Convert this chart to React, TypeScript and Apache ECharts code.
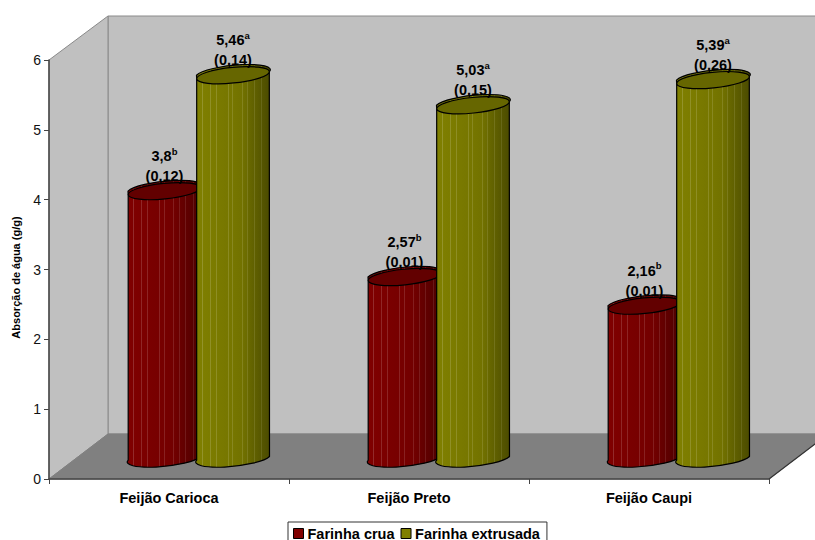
import React, { useEffect, useRef } from "react";
import * as echarts from "echarts";

const categories = ["Feijão Carioca", "Feijão Preto", "Feijão Caupi"];
const rawFlour = [3.8, 2.57, 2.16];
const extrudedFlour = [5.46, 5.03, 5.39];
const rawDeviation = ["(0,12)", "(0,01)", "(0,01)"];
const extrudedDeviation = ["(0,14)", "(0,15)", "(0,26)"];
const rawLetters = ["b", "b", "b"];
const extrudedLetters = ["a", "a", "a"];
const yTicks = { min: 0, max: 6, interval: 1 };

const FONT = '"Liberation Sans", Arial, sans-serif';
const W = 815;
const H = 540;
const GRID = { left: 49, right: 769, top: 60, bottom: 479 };
const DEPTH = { x: 59, y: 45 };
const BASE_LIFT = 22.5;
const RADIUS_X = 36.5;
const RADIUS_Y = 7.8;
const TILT = 0.1;
const STRIPES = [0.08, 0.19, 0.27, 0.43, 0.49, 0.62, 0.69, 0.78, 0.88];

type RGB = [number, number, number];
const hex = (c: RGB) => `rgb(${c.map((v) => Math.round(v)).join(",")})`;
const mix = (a: RGB, b: RGB, t: number): RGB => [
  a[0] + (b[0] - a[0]) * t,
  a[1] + (b[1] - a[1]) * t,
  a[2] + (b[2] - a[2]) * t,
];

// Cylinder shading: dark towards the right, with thin pale facets.
function bodyGradient(light: RGB, dark: RGB) {
  const shoulder = mix(light, dark, 0.22);
  const at = (f: number): RGB => (f < 0.6 ? mix(light, shoulder, f / 0.6) : mix(shoulder, dark, (f - 0.6) / 0.4));
  const stops: { offset: number; color: string }[] = [{ offset: 0, color: hex(light) }];
  STRIPES.forEach((f) => {
    const w = 0.013;
    const pale = mix(at(f), [255, 255, 255], 0.17 * (1 - f * 0.5));
    stops.push({ offset: f, color: hex(at(f)) });
    stops.push({ offset: f, color: hex(pale) });
    stops.push({ offset: f + w, color: hex(pale) });
    stops.push({ offset: f + w, color: hex(at(f + w)) });
  });
  stops.push({ offset: 1, color: hex(dark) });
  return new echarts.graphic.LinearGradient(0, 0, 1, 0, stops);
}

function cylinderSeries(
  name: string,
  values: number[],
  deviations: string[],
  letters: string[],
  side: number,
  color: string,
  light: RGB,
  dark: RGB,
  capColor: string,
) {
  const fill = bodyGradient(light, dark);
  return {
    name,
    type: "custom",
    itemStyle: { color },
    encode: { x: 0, y: 1 },
    data: values.map((v, i) => [i, v]),
    clip: false,
    renderItem(_params: unknown, api: any) {
      const i = api.value(0);
      const top = api.coord([i, api.value(1)]);
      const base = api.coord([i, 0]);
      const cx = top[0] + 29.75 + side * 34.25;
      const topY = top[1] - BASE_LIFT;
      const baseY = base[1] - BASE_LIFT;
      const lift = Math.sin(TILT) * RADIUS_X;
      const reach = Math.cos(TILT) * RADIUS_X;
      const xl = cx - reach;
      const xr = cx + reach;
      const deg = (-TILT * 180) / Math.PI;
      // The outline follows the upper rim, so no stroke doubles back at the shoulders.
      const body =
        `M${xl} ${topY + lift} L${xl} ${baseY + lift} ` +
        `A${RADIUS_X} ${RADIUS_Y} ${deg} 0 0 ${xr} ${baseY - lift} ` +
        `L${xr} ${topY - lift} A${RADIUS_X} ${RADIUS_Y} ${deg} 0 0 ${xl} ${topY + lift} Z`;
      return {
        type: "group",
        children: [
          {
            type: "path",
            shape: { pathData: body },
            style: { fill, stroke: "#000", lineWidth: 1.2, lineJoin: "round" },
          },
          {
            type: "ellipse",
            x: cx,
            y: topY,
            rotation: TILT,
            shape: { cx: 0, cy: 0, rx: RADIUS_X, ry: RADIUS_Y },
            style: { fill: capColor, stroke: "#000", lineWidth: 1.2 },
          },
          {
            type: "text",
            x: cx,
            y: topY - 5,
            style: {
              text: `{v|${String(values[i]).replace(".", ",")}}{s|${letters[i]}}\n{v|${deviations[i]}}`,
              align: "center",
              verticalAlign: "bottom",
              fill: "#000",
              font: `bold 14.5px ${FONT}`,
              rich: {
                v: { font: `bold 14.5px ${FONT}`, lineHeight: 20, fill: "#000" },
                s: { font: `bold 9.5px ${FONT}`, lineHeight: 20, verticalAlign: "top", fill: "#000" },
              },
            },
          },
        ],
      };
    },
  };
}

const WALL = "#C0C0C0";
const FLOOR = "#808080";
const EDGE = "#8a8a8a";

export default function App() {
  const ref = useRef<HTMLDivElement>(null);

  useEffect(() => {
    const chart = echarts.init(ref.current!, undefined, { renderer: "svg" });
    const backX = GRID.left + DEPTH.x;
    const backBottom = GRID.bottom - DEPTH.y;
    const backTop = GRID.top - DEPTH.y + 1;
    chart.setOption({
      animation: false,
      textStyle: { fontFamily: FONT },
      grid: {
        left: GRID.left,
        right: W - GRID.right,
        top: GRID.top,
        bottom: H - GRID.bottom,
        containLabel: false,
        outerBoundsMode: "none",
      },
      graphic: [
        {
          type: "rect",
          z: -10,
          shape: { x: backX, y: backTop, width: W - backX + 20, height: backBottom - backTop },
          style: { fill: WALL, stroke: EDGE, lineWidth: 1 },
        },
        {
          type: "polygon",
          z: -10,
          shape: {
            points: [
              [GRID.left, GRID.top],
              [backX, backTop],
              [backX, backBottom],
              [GRID.left, GRID.bottom],
            ],
          },
          style: { fill: WALL, stroke: EDGE, lineWidth: 1 },
        },
        {
          type: "polygon",
          z: -10,
          shape: {
            points: [
              [GRID.left, GRID.bottom],
              [backX, backBottom],
              [GRID.right + DEPTH.x, backBottom],
              [GRID.right, GRID.bottom],
            ],
          },
          style: { fill: FLOOR, stroke: FLOOR, lineWidth: 1 },
        },
        {
          type: "line",
          z: -9,
          shape: { x1: GRID.right, y1: GRID.bottom, x2: GRID.right + DEPTH.x, y2: backBottom },
          style: { stroke: "#333", lineWidth: 1.2 },
        },
      ],
      xAxis: {
        type: "category",
        data: categories,
        axisLine: { lineStyle: { color: "#444", width: 1.5 } },
        axisTick: { show: true, length: 5, lineStyle: { color: "#444", width: 1 } },
        axisLabel: { color: "#000", fontFamily: FONT, fontWeight: "bold", fontSize: 14.5, margin: 11 },
      },
      yAxis: {
        type: "value",
        min: yTicks.min,
        max: yTicks.max,
        interval: yTicks.interval,
        name: "Absorção de água (g/g)",
        nameLocation: "middle",
        nameRotate: 90,
        nameGap: 28,
        nameTextStyle: { color: "#000", fontFamily: FONT, fontWeight: "bold", fontSize: 11, padding: [0, 16, 0, 0] },
        axisLine: { show: true, lineStyle: { color: "#444", width: 1.5 } },
        axisTick: { show: true, length: 5, lineStyle: { color: "#444", width: 1 } },
        axisLabel: { color: "#111", fontFamily: FONT, fontSize: 14, margin: 8 },
        splitLine: { show: false },
      },
      legend: {
        left: 288,
        top: 522,
        orient: "horizontal",
        data: ["Farinha crua", "Farinha extrusada"],
        icon: "rect",
        itemWidth: 10,
        itemHeight: 10,
        itemGap: 6,
        padding: [4, 7, 3, 5],
        backgroundColor: "#fff",
        borderColor: "#333",
        borderWidth: 1,
        borderRadius: 0,
        itemStyle: { borderColor: "#000", borderWidth: 1 },
        textStyle: { color: "#000", fontFamily: FONT, fontWeight: "bold", fontSize: 14.5, padding: [0, 0, 0, -1] },
        selectedMode: false,
      },
      series: [
        cylinderSeries("Farinha crua", rawFlour, rawDeviation, rawLetters, -1, "#800000", [128, 0, 0], [74, 0, 0], "#620000"),
        cylinderSeries("Farinha extrusada", extrudedFlour, extrudedDeviation, extrudedLetters, 1, "#808000", [128, 128, 0], [74, 74, 0], "#666600"),
      ],
    });
    return () => chart.dispose();
  }, []);

  return <div ref={ref} style={{ position: "absolute", left: 0, top: 0, width: W, height: H }} />;
}
